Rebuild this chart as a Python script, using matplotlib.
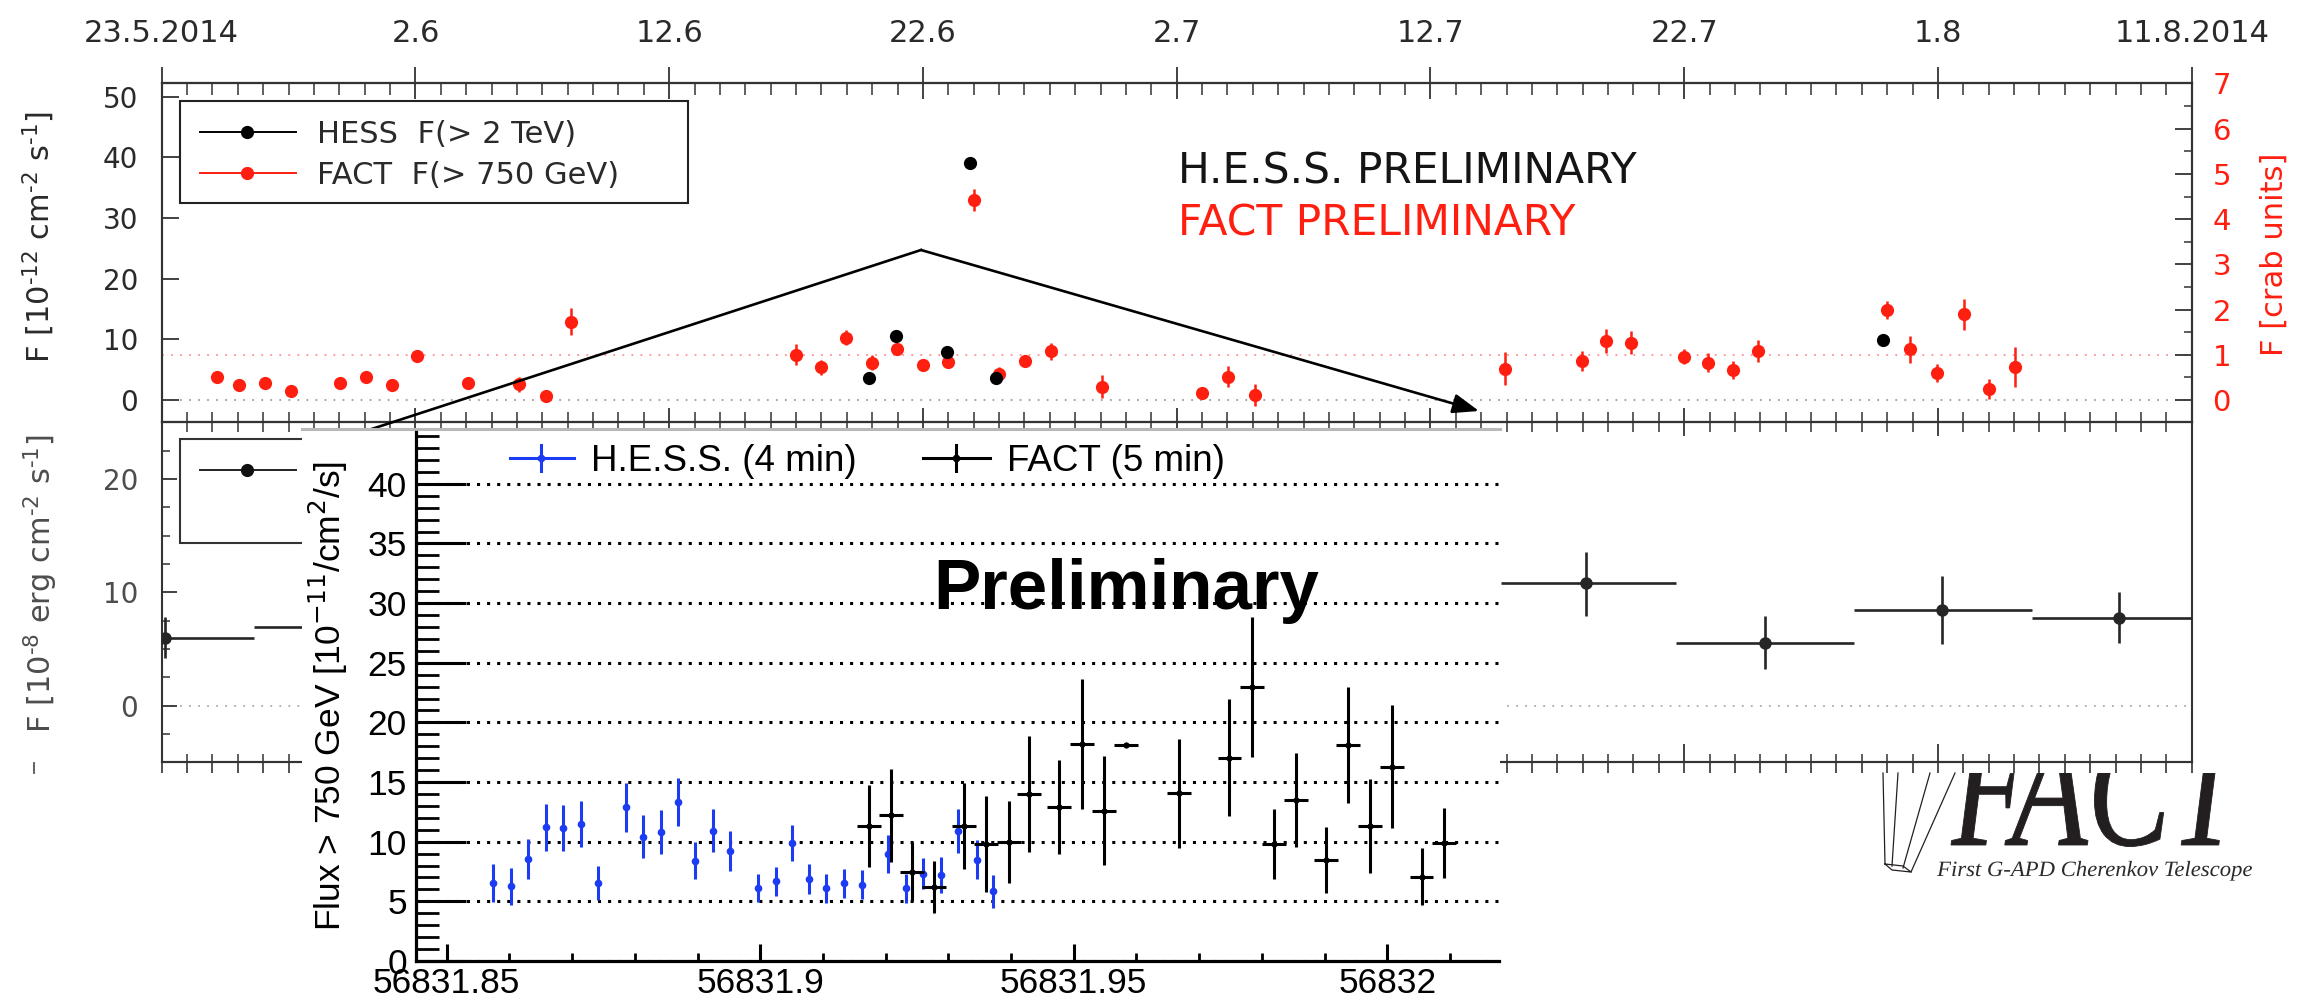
import numpy as np
import matplotlib
matplotlib.use("Agg")
import matplotlib.pyplot as plt
from matplotlib.ticker import FixedLocator, FixedFormatter, MultipleLocator
from matplotlib.transforms import Affine2D
from matplotlib.textpath import TextPath
from matplotlib.font_manager import FontProperties
from matplotlib.patches import PathPatch, Rectangle, FancyArrowPatch
from matplotlib.lines import Line2D

W, H = 2315, 998

# ------------------------------------------------------------------ data
# top panel: nightly fluxes, MJD and F(>E) in 1e-12 cm^-2 s^-1
fact_mjd = [56802.17, 56803.06, 56804.07, 56805.10, 56807.03, 56808.04, 56809.06,
            56810.05, 56812.08, 56814.10, 56815.13, 56816.14, 56825.00, 56825.97,
            56826.97, 56827.98, 56828.97, 56829.99, 56830.98, 56832.01, 56833.01,
            56834.02, 56835.03, 56837.04, 56841.01, 56842.01, 56843.09, 56852.92,
            56855.96, 56856.90, 56857.90, 56860.00, 56860.92, 56861.94, 56862.92,
            56867.98, 56868.90, 56869.95, 56871.03, 56872.03, 56873.04]
fact_flux = [3.73, 2.47, 2.75, 1.53, 2.75, 3.73, 2.47, 7.3, 2.75, 2.58, 0.66, 12.9,
             7.5, 5.4, 10.3, 6.15, 8.35, 5.77, 6.3, 32.95, 4.28, 6.48, 8.07, 2.2,
             1.2, 3.85, 0.82, 5.16, 6.43, 9.73, 9.45, 7.14, 6.15, 4.95, 8.08,
             14.8, 8.35, 4.4, 14.1, 1.8, 5.4]
fact_err = [0.8, 0.7, 0.7, 0.7, 0.7, 0.8, 0.8, 0.9, 0.8, 1.2, 1.0, 2.2,
            1.7, 1.2, 1.2, 1.2, 1.0, 1.0, 1.0, 1.8, 1.2, 1.0, 1.4, 1.9,
            1.0, 1.7, 1.8, 2.75, 1.6, 2.0, 1.9, 1.2, 1.6, 1.5, 1.8,
            1.5, 2.2, 1.5, 2.6, 1.6, 3.3]
hess_mjd = [56827.89, 56828.93, 56830.94, 56831.85, 56832.87, 56867.85]
hess_flux = [3.7, 10.6, 7.85, 39.1, 3.57, 9.9]
crab_flux = 7.45          # 1 crab unit in 1e-12 cm^-2 s^-1

date_ticks = [56800, 56810, 56820, 56830, 56840, 56850, 56860, 56870, 56880]
date_labels = ["23.5.2014", "2.6", "12.6", "22.6", "2.7", "12.7", "22.7", "1.8", "11.8.2014"]

# middle panel: weekly energy flux, 1e-8 erg cm^-2 s^-1
week_mjd = [56800.13, 56807.10, 56856.14, 56863.19, 56870.17, 56877.15]
week_left = [56796.60, 56803.65, 56852.77, 56859.68, 56866.68, 56873.69]
week_right = [56803.65, 56810.65, 56859.68, 56866.68, 56873.69, 56880.60]
week_flux = [6.0, 6.9, 10.8, 5.5, 8.4, 7.7]
week_err_lo = [1.8, 1.5, 2.9, 2.3, 3.0, 2.2]
week_err_hi = [1.8, 1.5, 2.75, 2.4, 3.0, 2.3]

# inset: flare night light curve, Flux > 750 GeV in 1e-11 /cm2/s
hess_in_mjd = [56831.85738, 56831.86021, 56831.86302, 56831.86579, 56831.86855,
               56831.87137, 56831.87408, 56831.87860, 56831.88126, 56831.88413,
               56831.88684, 56831.88960, 56831.89242, 56831.89518, 56831.89970,
               56831.90247, 56831.90502, 56831.90778, 56831.91053, 56831.91344,
               56831.91618, 56831.92046, 56831.92328, 56831.92595, 56831.92885,
               56831.93153, 56831.93450, 56831.93718]
hess_in_flux = [6.54, 6.26, 8.55, 11.2, 11.15, 11.48, 6.54, 12.88, 10.42, 10.78,
                13.35, 8.41, 10.92, 9.25, 6.12, 6.68, 9.89, 6.87, 6.1, 6.5,
                6.4, 9.0, 6.1, 7.3, 7.2, 10.9, 8.5, 5.85]
hess_in_err = [1.58, 1.54, 1.68, 1.96, 1.89, 1.91, 1.44, 2.07, 1.79, 1.84,
               2.03, 1.57, 1.82, 1.68, 1.16, 1.19, 1.47, 1.23, 1.2, 1.25,
               1.23, 1.6, 1.2, 1.3, 1.5, 1.85, 1.65, 1.4]
fact_in_mjd = [56831.91740, 56831.92084, 56831.92420, 56831.92771, 56831.93244,
               56831.93603, 56831.93969, 56831.94293, 56831.94766, 56831.95133,
               56831.95479, 56831.95835, 56831.96676, 56831.97484, 56831.97846,
               56831.98191, 56831.98548, 56831.99027, 56831.99378, 56831.99723,
               56832.00080, 56832.00548, 56832.00904]
fact_in_flux = [11.3, 12.2, 7.5, 6.2, 11.3, 9.8, 10.0, 13.97, 12.92, 18.2, 12.6,
                18.14, 14.04, 17.02, 22.95, 9.78, 13.49, 8.43, 18.11, 11.31,
                16.28, 7.08, 9.87]
fact_in_err = [3.45, 3.9, 2.45, 2.15, 3.6, 4.0, 3.45, 4.86, 3.96, 5.47, 4.57,
               0.15, 4.56, 4.9, 5.85, 2.93, 3.96, 2.76, 4.83, 3.94, 5.16, 2.36, 2.93]
fact_in_binhalf = 0.0019
inset_ticks = [56831.85, 56831.90, 56831.95, 56832.00]
inset_tick_labels = ["56831.85", "56831.9", "56831.95", "56832"]
inset_yticks = [0, 5, 10, 15, 20, 25, 30, 35, 40]

# ------------------------------------------------------------------ style
RED = "#ff1f10"
BLUE = "#1b3cf2"
DARK = "#2a2a2a"
AX = "#333333"
SANS2 = "Liberation Sans"
HY = "\u2010"   # short hyphen used in the exponents

fig = plt.figure(figsize=(W / 100, H / 100), dpi=100)
fig.patch.set_facecolor("white")
# reference-pixel transform (x right, y down)
P = Affine2D().scale(1 / W, -1 / H).translate(0, 1) + fig.transFigure


def rect_px(l, t, r, b):
    return [l / W, 1 - b / H, (r - l) / W, (b - t) / H]


# ================================================================ top panel
ax1 = fig.add_axes(rect_px(161.7, 83.3, 2191.7, 421.7), zorder=1)
ax1.patch.set_visible(False)
ax1.set_xlim(56800, 56880)
ax1.set_ylim(-3.57, 52.18)
ax1.axhline(0, color="#9c9c9c", ls=(0, (1, 4)), lw=1.3, zorder=1)
ax1.axhline(crab_flux, color="#ff9090", ls=(0, (1, 4)), lw=1.3, zorder=1)
ax1.errorbar(fact_mjd, fact_flux, yerr=fact_err, fmt="o", color=RED, ms=9.5, mew=0,
             elinewidth=1.8, capsize=0, zorder=3)
ax1.plot(hess_mjd, hess_flux, "o", color="black", ms=9.5, mew=0, zorder=4)
for s in ax1.spines.values():
    s.set_color(AX)
    s.set_linewidth(1.5)
ax1.xaxis.set_major_locator(FixedLocator(date_ticks))
ax1.xaxis.set_minor_locator(MultipleLocator(1))
ax1.tick_params(axis="x", which="both", bottom=True, top=False, labelbottom=False,
                direction="inout", color=AX)
ax1.tick_params(axis="x", which="major", length=20, width=1.3)
ax1.tick_params(axis="x", which="minor", length=14, width=1.1)
ax1.yaxis.set_major_locator(MultipleLocator(10))
ax1.tick_params(axis="y", which="major", left=True, right=False, direction="in",
                length=12.2, width=1.3, labelsize=20, pad=17, labelcolor=DARK, color=AX)

sec_top = ax1.secondary_xaxis("top")
sec_top.xaxis.set_major_locator(FixedLocator(date_ticks))
sec_top.xaxis.set_major_formatter(FixedFormatter(date_labels))
sec_top.xaxis.set_minor_locator(MultipleLocator(1))
sec_top.tick_params(axis="x", which="major", direction="inout", length=23, width=1.3,
                    labelsize=22, pad=14, labelcolor=DARK, color=AX)
sec_top.tick_params(axis="x", which="minor", direction="in", length=8.6, width=1.1, color=AX)
for s in sec_top.spines.values():
    s.set_color(AX)
    s.set_linewidth(1.5)

ax1r = ax1.twinx()
ax1r.set_zorder(1.1)
ax1r.patch.set_visible(False)
lo, hi = ax1.get_ylim()
ax1r.set_ylim(lo / crab_flux, hi / crab_flux)
ax1r.yaxis.set_major_locator(MultipleLocator(1))
ax1r.yaxis.set_minor_locator(MultipleLocator(0.5))
ax1r.tick_params(axis="y", which="major", direction="in", length=12.2, width=1.3,
                 labelsize=21, pad=15, labelcolor=RED, color=AX)
ax1r.tick_params(axis="y", which="minor", direction="in", length=5.8, width=1.1, color=AX)
for s in ax1r.spines.values():
    s.set_color(AX)
    s.set_linewidth(1.5)

# ============================================================== middle panel
ax2 = fig.add_axes(rect_px(161.7, 421.7, 2191.7, 761.7), zorder=1)
ax2.patch.set_visible(False)
ax2.set_xlim(56800, 56880)
ax2.set_ylim(-4.96, 25.05)
ax2.axhline(0, color="#ababab", ls=(0, (1, 4)), lw=1.3, zorder=1)
wm = np.array(week_mjd)
ax2.errorbar(wm, week_flux, xerr=[wm - np.array(week_left), np.array(week_right) - wm],
             yerr=[week_err_lo, week_err_hi], fmt="o", color="#262626", ms=9, mew=0,
             elinewidth=1.9, capsize=0, zorder=3)
for s in ax2.spines.values():
    s.set_color(AX)
    s.set_linewidth(1.5)
ax2.xaxis.set_major_locator(FixedLocator(date_ticks))
ax2.xaxis.set_minor_locator(MultipleLocator(1))
ax2.tick_params(axis="x", which="both", top=False, bottom=True, labelbottom=False,
                direction="in", color=AX)
ax2.tick_params(axis="x", which="major", length=13, width=1.3)
ax2.tick_params(axis="x", which="minor", length=6, width=1.1)
ax2.yaxis.set_major_locator(MultipleLocator(10))
ax2.yaxis.set_minor_locator(MultipleLocator(2.5))
ax2.tick_params(axis="y", which="major", direction="in", length=10.8, width=1.3,
                labelsize=20, pad=17, labelcolor="#4d4d4d", color=AX)
ax2.tick_params(axis="y", which="minor", direction="in", length=6, width=1.1, color=AX)
sec_bot = ax2.secondary_xaxis("bottom")
sec_bot.xaxis.set_major_locator(FixedLocator(date_ticks))
sec_bot.xaxis.set_minor_locator(MultipleLocator(1))
sec_bot.tick_params(axis="x", which="both", direction="out", length=8, width=1.2,
                    labelbottom=False, color=AX)
for s in sec_bot.spines.values():
    s.set_color(AX)
    s.set_linewidth(1.5)

# legends of the two panels (drawn manually, ROOT style boxes)
fig.add_artist(Rectangle((180, 101), 508, 102, transform=P, fc="white", ec="#222222",
                         lw=1.5, zorder=1.5))
for yrow, col, txt in [(132, "black", "HESS  F(> 2 TeV)"), (173, RED, "FACT  F(> 750 GeV)")]:
    fig.add_artist(Line2D([200, 296], [yrow, yrow], color=col, lw=1.4, transform=P, zorder=1.6))
    fig.add_artist(Line2D([247], [yrow], color=col, marker="o", ms=9.5, mew=0,
                          transform=P, zorder=1.6))
    fig.text(317, yrow + 11, txt, transform=P, fontsize=22, color=DARK,
             ha="left", va="baseline", zorder=1.6)
fig.add_artist(Rectangle((180, 439), 400, 104, transform=P, fc="white", ec="#333333",
                         lw=1.5, zorder=1.5))
fig.add_artist(Line2D([200, 296], [470, 470], color="#222222", lw=1.4, transform=P, zorder=1.6))
fig.add_artist(Line2D([247], [470], color="#111111", marker="o", ms=9.5, mew=0,
                      transform=P, zorder=1.6))

# axis labels & preliminary tags
fig.text(39, 237.5, "F [10$^{%s12}$ cm$^{%s2}$ s$^{%s1}$]" % (HY, HY, HY), transform=P,
         rotation=90, ha="center", va="center", fontsize=22, color=DARK)
fig.text(41, 583.5, "F [10$^{%s8}$ erg cm$^{%s2}$ s$^{%s1}$]" % (HY, HY, HY), transform=P,
         rotation=90, ha="center", va="center", fontsize=22, color="#4d4d4d")
fig.add_artist(Line2D([33.5, 33.5], [763, 773], color="#555555", lw=1.3, transform=P))
fig.text(2274, 254, "F [crab units]", transform=P, rotation=90, ha="center", va="center",
         fontsize=22, color=RED)
fig.text(1178, 183, "H.E.S.S. PRELIMINARY", transform=P, fontsize=30.5, color="#151515",
         ha="left", va="baseline")
fig.text(1178, 235, "FACT PRELIMINARY", transform=P, fontsize=30.5, color=RED,
         ha="left", va="baseline")

# zoom arrows
fig.add_artist(Line2D([364, 921], [431.5, 250], color="black", lw=1.9, transform=P, zorder=2))
fig.add_artist(FancyArrowPatch((921, 250), (1479, 411), transform=P,
                               arrowstyle="-|>,head_length=16,head_width=6",
                               mutation_scale=1, lw=1.9, color="black",
                               shrinkA=0, shrinkB=0, zorder=2))

# FACT logo
prop_it = FontProperties(family="Liberation Serif", style="italic")


def fit_text(s, x0, x1, base, cap, prop, **kw):
    tp = TextPath((0, 0), s, size=1, prop=prop)
    bb = tp.get_extents()
    capref = TextPath((0, 0), "H", size=1, prop=prop).get_extents().height
    tr = Affine2D().translate(-bb.x0, 0).scale((x1 - x0) / bb.width, -cap / capref).translate(x0, base)
    patch = PathPatch(tr.transform_path(tp), transform=P, **kw)
    fig.add_artist(patch)
    return patch


logo = fit_text("FACT", 1951, 2247, 845, 113, prop_it, fc="#231f20", ec="#231f20",
                lw=0.6, zorder=2)
logo.set_clip_path(Rectangle((1800, 773), 515, 225, transform=P))
fit_text("First G-APD Cherenkov Telescope", 1937, 2252, 876, 14.3, prop_it,
         fc="#2b2b2b", ec="none", zorder=2)
for xs, ys in [([1883, 1885], [773, 864]), ([1898, 1892], [773, 866]),
               ([1930, 1903], [773, 868]), ([1955, 1911], [773, 872]),
               ([1885, 1892, 1911, 1903, 1885], [864, 870, 872, 866, 864])]:
    fig.add_artist(Line2D(xs, ys, color="#231f20", lw=0.9, transform=P, zorder=2))

# ==================================================================== inset
fig.add_artist(Rectangle((302, 428), 1198, 570, transform=P, fc="white", ec="none", zorder=3))
fig.add_artist(Line2D([302, 1500], [429, 429], color="#b8b8b8", lw=2.2, transform=P, zorder=3.1))

ax3 = fig.add_axes(rect_px(416, 432, 1499, 961), zorder=4)
ax3.set_xlim(56831.8451, 56832.01783)
ax3.set_ylim(0, 44.34)
ax3.spines["top"].set_visible(False)
ax3.spines["right"].set_visible(False)
for k in ["left", "bottom"]:
    ax3.spines[k].set_linewidth(2.3)
    ax3.spines[k].set_color("black")
ax3.set_xticks(inset_ticks, labels=inset_tick_labels, fontfamily=SANS2)
ax3.set_yticks(inset_yticks, labels=[str(v) for v in inset_yticks], fontfamily=SANS2)
ax3.xaxis.set_minor_locator(MultipleLocator(0.01))
ax3.yaxis.set_minor_locator(MultipleLocator(1))
ax3.tick_params(axis="x", which="major", direction="in", length=12, width=2.2,
                labelsize=25.5, pad=4)
ax3.tick_params(axis="x", which="minor", direction="in", length=5.5, width=2.0)
ax3.tick_params(axis="y", which="major", direction="in", length=36, width=2.2,
                labelsize=25.5, pad=6.5)
ax3.tick_params(axis="y", which="minor", direction="in", length=16.5, width=2.0)
ax3.yaxis.grid(True, which="major", color="black", ls=(0, (1, 2.3)), lw=2.2)
ax3.errorbar(hess_in_mjd, hess_in_flux, yerr=hess_in_err, fmt="o", color=BLUE, ms=5.5,
             mew=0, elinewidth=2.2, capsize=3.2, capthick=2.2, zorder=3)
ax3.errorbar(fact_in_mjd, fact_in_flux, xerr=fact_in_binhalf, fmt="none", ecolor="black",
             elinewidth=2.2, capsize=0, zorder=4)
ax3.errorbar(fact_in_mjd, fact_in_flux, yerr=fact_in_err, fmt="o", color="black", ms=4.5,
             mew=0, elinewidth=2.2, capsize=3, capthick=2.2, zorder=4)

fig.text(328, 696, r"Flux > 750 GeV [10$^{-11}$/cm$^{2}$/s]", transform=P, rotation=90,
         ha="center", va="center", fontsize=25.5, family=SANS2, color="black", zorder=5)
# inset legend
for xl, xm, xr, col, txt, xt in [(510, 541, 574, BLUE, "H.E.S.S. (4 min)", 591),
                                 (923, 956, 990, "black", "FACT (5 min)", 1007)]:
    fig.add_artist(Line2D([xl, xr], [458, 458], color=col, lw=2.2, transform=P, zorder=5))
    fig.add_artist(Line2D([xm, xm], [445, 471], color=col, lw=2.2, transform=P, zorder=5))
    fig.add_artist(Line2D([xm], [458], color=col, marker="o", ms=5.5, mew=0,
                          transform=P, zorder=5))
    fig.text(xt, 471, txt, transform=P, fontsize=26.5, family=SANS2, color="black",
             ha="left", va="baseline", zorder=5)
fig.text(933, 609, "Preliminary", transform=P, fontsize=51, family=SANS2, weight="bold",
         color="black", ha="left", va="baseline", zorder=5)

fig.savefig("out.png", dpi=100, facecolor="white")
